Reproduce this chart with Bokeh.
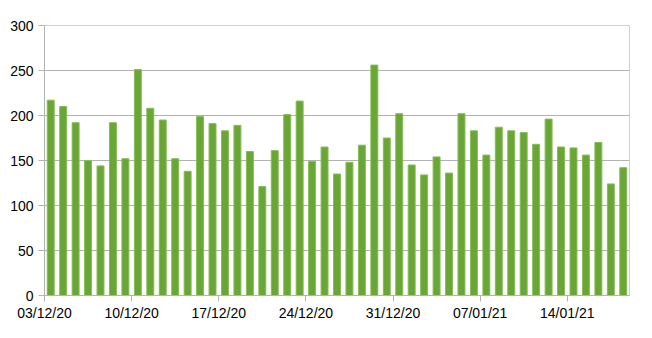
from bokeh.plotting import figure
from bokeh.models import Range1d, FixedTicker, ColumnDataSource
from bokeh.embed import file_html
from bokeh.resources import INLINE
import pandas as pd

# Daily categories: 03/12/20 .. 18/01/21
dates = pd.date_range("2020-12-03", "2021-01-18", freq="D")
values = [217, 210, 192, 150, 144, 192, 152, 251, 208, 195,
          152, 138, 199, 191, 183, 189, 160, 121, 161, 201,
          216, 149, 165, 135, 148, 167, 256, 175, 202, 145,
          134, 154, 136, 202, 183, 156, 187, 183, 181, 168,
          196, 165, 164, 156, 170, 124, 142]
tick_labels = ["03/12/20", "10/12/20", "17/12/20", "24/12/20",
               "31/12/20", "07/01/21", "14/01/21"]
y_ticks = [0, 50, 100, 150, 200, 250, 300]

n = len(values)
idx = [i + 0.5 for i in range(n)]
src = ColumnDataSource(dict(x=idx, top=values,
                            date=[d.strftime("%d/%m/%y") for d in dates]))

p = figure(width=652, height=338, output_backend="svg", toolbar_location=None,
           x_range=Range1d(0, n), y_range=Range1d(0, 300),
           min_border_left=44, min_border_right=23, min_border_top=25,
           min_border_bottom=43)
p.background_fill_color = "white"
p.border_fill_color = "white"
p.outline_line_color = "#d0d0d0"
p.outline_line_width = 1

p.vbar(x="x", top="top", width=0.56, bottom=0, source=src,
       fill_color="#6aa636", line_color="#86bd57", line_width=1)

# tick positions at category boundaries for each labelled date
tick_pos = [i for i, d in enumerate(dates) if d.strftime("%d/%m/%y") in tick_labels]
p.xaxis.ticker = FixedTicker(ticks=tick_pos)
p.xaxis.major_label_overrides = {pos: dates[pos].strftime("%d/%m/%y") for pos in tick_pos}
p.yaxis.ticker = FixedTicker(ticks=y_ticks)

for ax in (p.xaxis, p.yaxis):
    ax.axis_line_color = "#b3b3b3"
    ax.axis_line_width = 1
    ax.major_tick_line_color = "#b3b3b3"
    ax.major_tick_in = 0
    ax.major_tick_out = 6
    ax.minor_tick_line_color = None
    ax.major_label_text_font = "Liberation Sans"
    ax.major_label_text_font_size = "14px"
    ax.major_label_text_color = "black"

p.xaxis.major_label_standoff = 3
p.yaxis.major_label_standoff = 5

p.xgrid.grid_line_color = None
p.ygrid.grid_line_color = "#b3b3b3"
p.ygrid.grid_line_width = 1

open("out.html", "w").write(file_html(p, INLINE))
